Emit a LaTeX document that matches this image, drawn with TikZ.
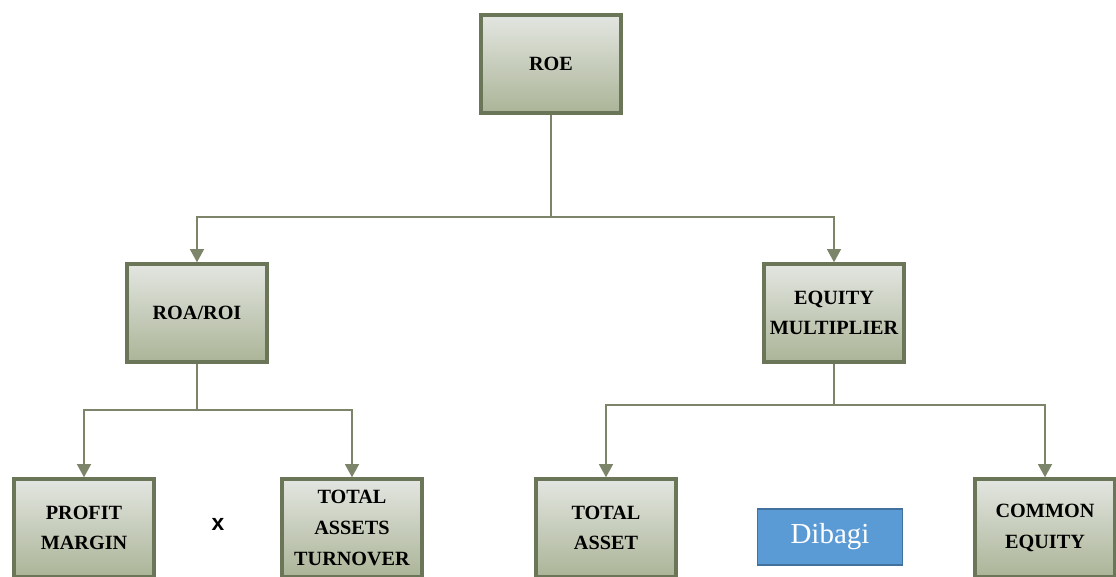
\documentclass[tikz,border=0pt]{standalone}
\usepackage{fontspec}
\setmainfont{Liberation Serif}
\newfontfamily\xsans{Liberation Sans}
\usetikzlibrary{arrows.meta,positioning}
\definecolor{boxline}{HTML}{6B7557}
\definecolor{boxtop}{HTML}{E3E6E1}
\definecolor{boxbot}{HTML}{ABB497}
\definecolor{wire}{HTML}{7C8569}
\definecolor{bluefill}{HTML}{5B9BD5}
\definecolor{blueline}{HTML}{41719C}
\tikzset{
  ratio_box/.style = {rectangle, draw=boxline, line width=2pt,
    top color=boxtop, bottom color=boxbot, align=center,
    minimum width=2.8cm, minimum height=1.96cm, inner sep=2pt,
    font=\bfseries\fontsize{11.5}{17.5}\selectfont},% kotak rasio
  op_box/.style = {rectangle, draw=blueline, line width=0.8pt,
    fill=bluefill, text=white, minimum width=2.9cm, minimum height=1.12cm,
    font=\fontsize{16.5}{19}\selectfont},% kotak operasi
  wire_arr/.style = {draw=wire, line width=0.9pt,
    -{Triangle[width=8pt,length=7.5pt]}, wire}
}
\begin{document}
\begin{tikzpicture}[x=0.02cm,y=-0.02cm]
        \useasboundingbox (0,0) rectangle (1116,577);
        \node [ratio_box] (roe) at (551,64) {ROE};
        \node [ratio_box] (roa) at (197,313) {ROA/ROI};
        \node [ratio_box] (em) at (834,313) {EQUITY\\MULTIPLIER};
        \node [ratio_box] (pm) at (84,528) {PROFIT\\MARGIN};
        \node [ratio_box] (tat) at (352,528) {TOTAL\\ASSETS\\TURNOVER};
        \node [ratio_box] (ta) at (606,528) {TOTAL\\ASSET};
        \node [ratio_box] (ce) at (1045,528) {COMMON\\EQUITY};
        \node [font=\xsans\bfseries\fontsize{13}{15}\selectfont] (kali) at (218,524) {x};
        \node [op_box] (bagi) at (830,537) {Dibagi};
        % percabangan
        \coordinate (j1) at (551,217);
        \coordinate (j2) at (197,410);
        \coordinate (j3) at (834,405);
        \draw [wire_arr] (roe.south) -- (j1) -| (roa.north);
        \draw [wire_arr] (j1) -| (em.north);
        \draw [wire_arr] (roa.south) -- (j2) -| (pm.north);
        \draw [wire_arr] (j2) -| (tat.north);
        \draw [wire_arr] (em.south) -- (j3) -| (ta.north);
        \draw [wire_arr] (j3) -| (ce.north);
\end{tikzpicture}
\end{document}
